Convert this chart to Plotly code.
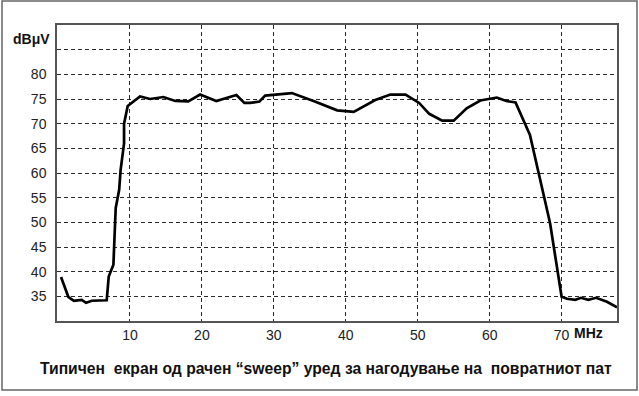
import plotly.graph_objects as go

freq_mhz = [0.42, 1.43, 2.2, 3.3, 3.9, 4.7, 6.77, 7.05, 7.7, 7.93, 8.02, 8.5, 8.7, 9.18, 9.18,
            9.69, 11.4, 12.8, 14.65, 16.3, 18.1, 19.75, 22.0, 24.8, 25.9, 26.7, 28.0, 28.8,
            32.5, 35.7, 38.8, 41.1, 44.1, 46.2, 48.3, 50.2, 51.6, 53.4, 55.0, 56.8, 58.7,
            61.0, 62.3, 63.6, 65.6, 68.4, 70.0, 70.75, 71.9, 72.7, 73.7, 74.8, 76.3, 77.7]
level_dbuv = [38.9, 34.9, 34.1, 34.3, 33.7, 34.1, 34.2, 39.0, 41.4, 48.5, 52.9, 56.6, 60.6, 66.0, 70.0,
              73.6, 75.5, 75.0, 75.4, 74.6, 74.5, 75.9, 74.6, 75.8, 74.2, 74.2, 74.5, 75.7,
              76.2, 74.5, 72.7, 72.4, 74.8, 75.9, 75.9, 74.2, 72.0, 70.6, 70.6, 73.1, 74.7,
              75.3, 74.6, 74.3, 67.7, 49.8, 34.9, 34.5, 34.3, 34.7, 34.3, 34.7, 33.9, 32.8]

x_ticks = [10, 20, 30, 40, 50, 60, 70]
y_ticks = [35, 40, 45, 50, 55, 60, 65, 70, 75, 80, 85]
y_ticktext = ["35", "40", "45", "50", "55", "60", "65", "70", "75", "80", ""]
title_text = "Типичен  екран од рачен “sweep” уред за нагодување на  повратниот пат"
y_unit = "dBμV"
x_unit = "MHz"

W, H = 639, 396
L, R, T, B = 57, 22, 25, 75
pw, ph = W - L - R, H - T - B

def px(xp):
    return (xp - L) / pw

def py(yp):
    return (H - B - yp) / ph

fig = go.Figure()
fig.add_trace(go.Scatter(x=freq_mhz, y=level_dbuv, mode="lines",
                         line=dict(color="#000000", width=2.7), hoverinfo="skip"))

font = dict(family="Liberation Sans, Arial, sans-serif", size=14, color="#222222")

fig.update_layout(
    width=W, height=H,
    margin=dict(l=L, r=R, t=T, b=B),
    paper_bgcolor="white", plot_bgcolor="white",
    showlegend=False,
    font=font,
    xaxis=dict(range=[-0.14, 77.7], tickvals=x_ticks, ticktext=[str(v) for v in x_ticks],
               showgrid=True, gridcolor="#2a2a2a", gridwidth=1.4, griddash="4px,3px",
               zeroline=False, showline=True, linecolor="#555555", linewidth=1.5,
               mirror=True, ticks="", tickfont=font),
    yaxis=dict(range=[30, 90], tickvals=y_ticks, ticktext=y_ticktext,
               showgrid=True, gridcolor="#2a2a2a", gridwidth=1.4, griddash="4px,3px",
               zeroline=False, showline=True, linecolor="#555555", linewidth=1.5,
               mirror=True, ticks="outside", ticklen=6, tickcolor="rgba(0,0,0,0)",
               tickfont=font),
)

bold = dict(family="Liberation Sans, Arial, sans-serif", size=14, color="#111111")
title_font = dict(family="Liberation Sans, Arial, sans-serif", size=15.7, color="#111111")
fig.add_annotation(text="<b>" + y_unit + "</b>", xref="paper", yref="paper",
                   x=px(52), y=py(39), xanchor="right", yanchor="middle",
                   showarrow=False, font=bold)
fig.add_annotation(text="<b>" + x_unit + "</b>", xref="paper", yref="paper",
                   x=px(572), y=py(333), xanchor="left", yanchor="middle",
                   showarrow=False, font=bold)
fig.add_annotation(text="<b>" + title_text + "</b>", xref="paper", yref="paper",
                   x=px(326), y=py(368), xanchor="center", yanchor="middle",
                   showarrow=False, font=title_font)

fig.add_shape(type="rect", xref="paper", yref="paper",
              x0=px(2), x1=px(637), y0=py(390), y1=py(1),
              line=dict(color="#666666", width=1.5), layer="below")

fig.write_html("out.html")
